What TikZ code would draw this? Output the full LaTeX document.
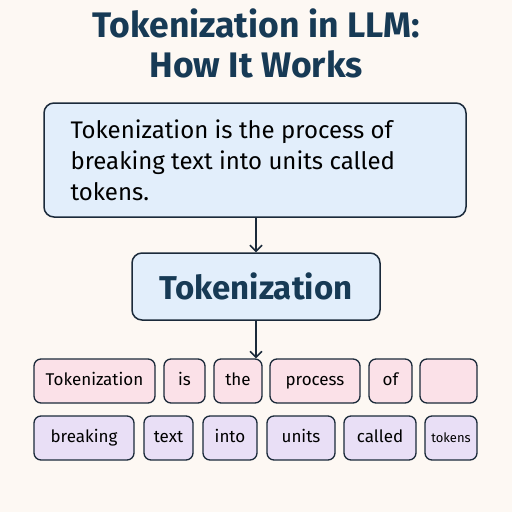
\documentclass[tikz,border=0pt]{standalone}
\usepackage{fontspec}
\setmainfont{Fira Sans}
\usetikzlibrary{arrows.meta}

\definecolor{pageback}{HTML}{FDF8F3}
\definecolor{navy}{HTML}{173A55}
\definecolor{edgeink}{HTML}{1B2A3A}
\definecolor{skyfill}{HTML}{E2EEFB}
\definecolor{rosefill}{HTML}{FBE1E8}
\definecolor{lilacfill}{HTML}{E9DFF6}

\tikzset{
  bigbox/.style={draw=edgeink, line width=1.5pt, rounded corners=10pt, fill=skyfill},
  tokbox/.style={draw=edgeink, line width=1.3pt, rounded corners=7pt,
    minimum height=44pt, inner sep=0pt, text=black, text height=1em, text depth=0.2em,
    font=\fontsize{17}{20}\selectfont},
  first/.style={tokbox, fill=rosefill},
  second/.style={tokbox, fill=lilacfill},
  flow/.style={draw=edgeink, line width=1.5pt, -{Straight Barb[length=6pt,width=12pt,line width=1.5pt]}}
}

\begin{document}
\begin{tikzpicture}[x=1pt,y=-1pt]
  \fill[pageback] (0,0) rectangle (512,512);
  \useasboundingbox (0,0) rectangle (512,512);

  \node[text=navy, align=center, font=\fontsize{35.5}{40}\selectfont\bfseries] (title) at (256,43)
    {Tokenization in LLM:\\How It Works};

  \node[bigbox, minimum width=422pt, minimum height=114pt] (desc) at (255,160) {};
  \node[anchor=west, align=left, font=\fontsize{24}{31}\selectfont] (desctext) at (67,160)
    {Tokenization is the process of\\breaking text into units called\\tokens.};

  \node[bigbox, minimum width=248pt, minimum height=67pt, text=navy,
        font=\fontsize{33}{36}\selectfont\bfseries] (tok) at (256,286.5) {Tokenization};

  \node[first, minimum width=121pt] (w1) at (94.5,381) {Tokenization};
  \node[first, minimum width=41pt]  (w2) at (184.5,381) {is};
  \node[first, minimum width=48pt]  (w3) at (238,381) {the};
  \node[first, minimum width=90pt]  (w4) at (315,381) {process};
  \node[first, minimum width=43pt]  (w5) at (390.5,381) {of};
  \node[first, minimum width=57pt]  (w6) at (448.5,381) {};

  \node[second, minimum width=100pt] (v1) at (84,438) {breaking};
  \node[second, minimum width=49pt]  (v2) at (168.5,438) {text};
  \node[second, minimum width=54pt]  (v3) at (230,438) {into};
  \node[second, minimum width=68pt]  (v4) at (301,438) {units};
  \node[second, minimum width=72pt]  (v5) at (380,438) {called};
  \node[second, minimum width=52pt, font=\fontsize{13}{15}\selectfont] (v6) at (451,438) {tokens};

  \path (desc.south -| tok.north) edge[flow] (tok.north)
        (tok.south) edge[flow] (tok.south |- w3.north);
\end{tikzpicture}
\end{document}
